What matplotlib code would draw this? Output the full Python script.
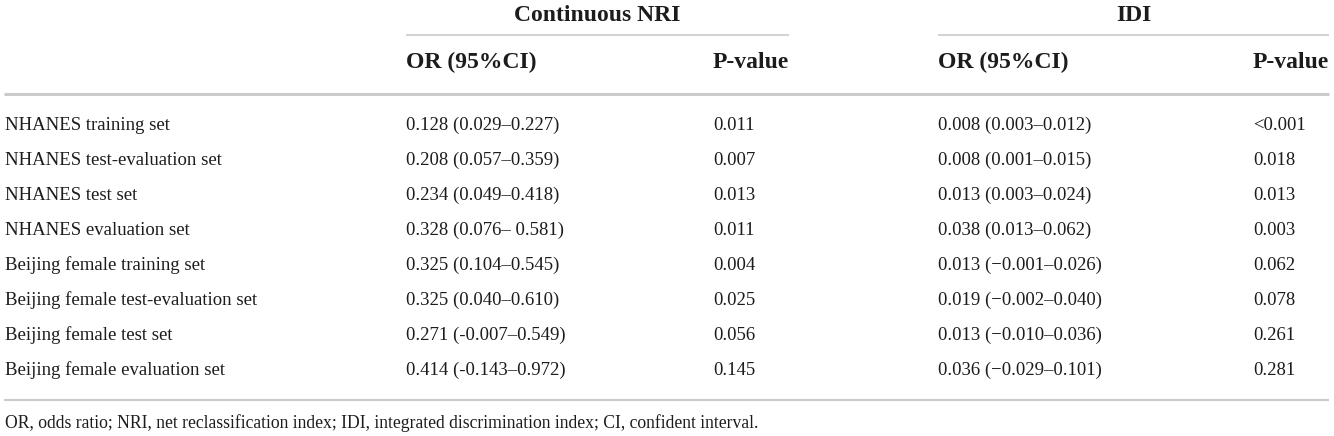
import matplotlib.pyplot as plt

plt.rcParams['font.family'] = ['Liberation Serif', 'DejaVu Serif']

row_labels = [
    'NHANES training set',
    'NHANES test-evaluation set',
    'NHANES test set',
    'NHANES evaluation set',
    'Beijing female training set',
    'Beijing female test-evaluation set',
    'Beijing female test set',
    'Beijing female evaluation set',
]
nri_or = [
    '0.128 (0.029\u20130.227)',
    '0.208 (0.057\u20130.359)',
    '0.234 (0.049\u20130.418)',
    '0.328 (0.076\u2013 0.581)',
    '0.325 (0.104\u20130.545)',
    '0.325 (0.040\u20130.610)',
    '0.271 (-0.007\u20130.549)',
    '0.414 (-0.143\u20130.972)',
]
nri_p = ['0.011', '0.007', '0.013', '0.011', '0.004', '0.025', '0.056', '0.145']
idi_or = [
    '0.008 (0.003\u20130.012)',
    '0.008 (0.001\u20130.015)',
    '0.013 (0.003\u20130.024)',
    '0.038 (0.013\u20130.062)',
    '0.013 (\u22120.001\u20130.026)',
    '0.019 (\u22120.002\u20130.040)',
    '0.013 (\u22120.010\u20130.036)',
    '0.036 (\u22120.029\u20130.101)',
]
idi_p = ['<0.001', '0.018', '0.013', '0.003', '0.062', '0.078', '0.261', '0.281']
groups = ['Continuous NRI', 'IDI']
sub_headers = ['OR (95%CI)', 'P-value', 'OR (95%CI)', 'P-value']
footnote = ('OR, odds ratio; NRI, net reclassification index; IDI, integrated '
            'discrimination index; CI, confident interval.')

text_col = '#1c1c1c'
line_col = '#cbcbcb'

fig = plt.figure(figsize=(13.34, 4.36), dpi=100)
ax = fig.add_axes([0, 0, 1, 1])
ax.set_xlim(0, 1334)
ax.set_ylim(436, 0)
ax.axis('off')

col_x = [5, 406, 713, 938, 1253]
group_span = [(406, 789), (938, 1329)]

# group headers
for name, (x0, x1) in zip(groups, group_span):
    ax.text((x0 + x1) / 2, 21, name, ha='center', va='baseline',
            fontsize=17, fontweight='bold', color=text_col)
    ax.hlines(35, x0, x1, color=line_col, lw=1.2)

for x, h in zip(col_x[1:], sub_headers):
    ax.text(x, 68, h, ha='left', va='baseline', fontsize=17,
            fontweight='bold', color=text_col)

ax.hlines(94, 4, 1329, color=line_col, lw=2.2)

columns = [row_labels, nri_or, nri_p, idi_or, idi_p]
for i in range(len(row_labels)):
    y = 130 + 35 * i
    for x, col in zip(col_x, columns):
        ax.text(x, y, col[i], ha='left', va='baseline', fontsize=13.5,
                color=text_col)

ax.hlines(400, 4, 1329, color=line_col, lw=1.5)
ax.text(5, 428, footnote, ha='left', va='baseline', fontsize=12.7,
        color=text_col)

fig.savefig('out.png', dpi=100)
